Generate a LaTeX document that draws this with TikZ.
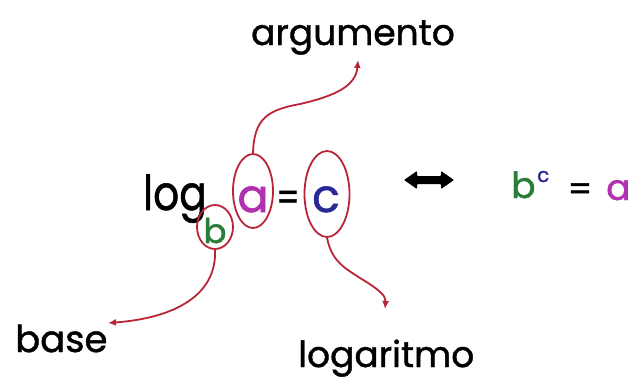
\documentclass[tikz,border=0pt]{standalone}
\usepackage{fontspec}
\setmainfont{Poppins}[FakeBold=1.2]
\usetikzlibrary{shapes.geometric,arrows.meta}
\definecolor{ringc}{RGB}{186,36,56}
\definecolor{bgreen}{RGB}{40,125,55}
\definecolor{amag}{RGB}{176,48,176}
\definecolor{cblue}{RGB}{40,40,150}
\begin{document}
\begin{tikzpicture}[x=1pt,y=-1pt,
  oval/.style={draw=ringc,line width=1.8pt,ellipse,inner sep=0pt},
  link/.style={draw=ringc,line width=1.8pt,-{Latex[length=8pt,width=7pt]}},
  txt/.style={inner sep=0pt,font=\fontsize{#1}{#1}\selectfont},
  txt/.default=36]
\fill[white] (0,0) rectangle (637,380);
\useasboundingbox (0,0) rectangle (637,380);

% labels
\node[txt,anchor=base] (arg) at (353,45) {argumento};
\node[txt=37,anchor=base west] (base) at (15,352) {base};
\node[txt,anchor=base west] (loga) at (298,367) {logaritmo};

% left formula
\node[txt=48,anchor=base east,xscale=0.85] (log) at (207,210) {log};
\node[txt=34,anchor=base,text=bgreen] (b) at (215,243) {b};
\node[txt=46,anchor=base,text=amag] (a) at (253,212) {a};
\node[txt=40,xscale=0.8] (eq) at (288,201) {=};
\node[txt=46,anchor=base,text=cblue] (c) at (326,212) {c};

% ovals
\node[oval,minimum width=36pt,minimum height=44pt] (eb) at (215,227) {};
\node[oval,minimum width=40pt,minimum height=74pt] (ea) at (253,191) {};
\node[oval,minimum width=45pt,minimum height=86pt] (ec) at (327,194) {};

% double arrow
\coordinate (dl) at (404,180);
\coordinate (dr) at (454,180);
\fill[black,rounded corners=0.8pt] (dl) -- ++(13,-9) -- ++(0,5) -- ++(24,0) -- ++(0,-5)
  -- (dr) -- ++(-13,9) -- ++(0,-5) -- ++(-24,0) -- ++(0,5) -- cycle;

% right formula
\node[txt=36,anchor=base west,text=bgreen] (rb) at (511,198) {b};
\node[txt=20,anchor=base west,text=cblue] (rc) at (537,182) {c};
\node[txt=34] (req) at (580,192) {=};
\node[txt=36,anchor=base west,text=amag] (ra) at (606,200) {a};

% connectors
\coordinate (tipArg) at (358,60);
\coordinate (tipBase) at (108,323);
\coordinate (tipLog) at (385,309);
\draw[link] (ea.north) .. controls (254,118) and (268,110) .. (300,104)
  .. controls (335,96) and (356,86) .. (tipArg);
\draw[link] (eb.south) .. controls (217,295) and (175,318) .. (tipBase);
\draw[link] (ec.south) .. controls (332,262) and (345,268) .. (360,278)
  .. controls (380,290) and (386,296) .. (tipLog);
\end{tikzpicture}
\end{document}
